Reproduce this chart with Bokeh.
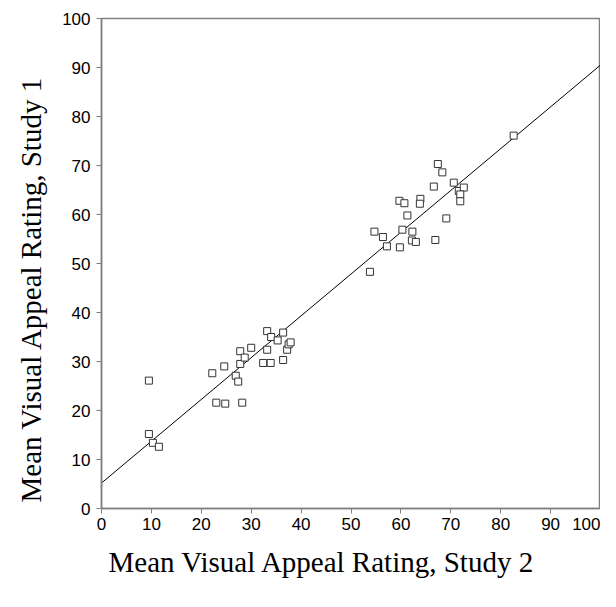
from bokeh.plotting import figure
from bokeh.models import Range1d, FixedTicker, Title
from bokeh.embed import file_html
from bokeh.resources import INLINE

# Mean visual appeal ratings (Study 2 on x, Study 1 on y)
study2 = [9.5, 9.5, 10.3, 11.5, 22.2, 24.6, 23.0, 24.8, 28.2, 26.9,
          27.4, 27.8, 27.8, 28.7, 30.0, 32.4, 33.9, 33.2, 33.2, 34.0,
          35.3, 36.4, 36.4, 37.2, 37.5, 37.9,
          82.6, 67.4, 68.3, 66.6, 70.6, 71.6, 72.6, 71.9, 71.9, 59.7,
          60.7, 63.9, 63.8, 61.3, 69.1, 54.7, 56.4, 60.3, 62.3, 57.2,
          59.8, 62.2, 63.0, 66.9, 53.8]
study1 = [26.1, 15.2, 13.4, 12.6, 27.6, 29.0, 21.6, 21.4, 21.6, 27.1,
          25.9, 32.1, 29.5, 30.8, 32.8, 29.7, 29.7, 36.2, 32.4, 35.0,
          34.3, 35.9, 30.3, 32.4, 33.5, 33.9,
          76.1, 70.3, 68.6, 65.7, 66.5, 64.8, 65.5, 64.1, 62.7, 62.8,
          62.3, 63.2, 62.2, 59.8, 59.2, 56.5, 55.4, 56.9, 56.5, 53.5,
          53.3, 54.7, 54.4, 54.8, 48.3]

# Fitted regression line endpoints
fit_x = [0, 100]
fit_y = [5.2, 90.5]

x_ticks = [0, 10, 20, 30, 40, 50, 60, 70, 80, 90, 100]
y_ticks = [0, 10, 20, 30, 40, 50, 60, 70, 80, 90, 100]

x_title = "Mean Visual Appeal Rating, Study 2"
y_title = "Mean Visual Appeal Rating, Study 1"

p = figure(width=600, height=591, output_backend="svg", toolbar_location=None,
           x_range=Range1d(0, 100), y_range=Range1d(0, 100),
           min_border_left=101, min_border_right=0, min_border_top=18,
           min_border_bottom=83)

p.line(fit_x, fit_y, line_color="black", line_width=1)
p.scatter(study2, study1, marker="square", size=7, fill_color="white",
          line_color="#333333", line_width=1)

p.grid.visible = False
p.outline_line_color = "#808080"
p.outline_line_width = 1.5

for ax in (p.xaxis[0], p.yaxis[0]):
    ax.axis_line_color = "#808080"
    ax.axis_line_width = 1.5
    ax.major_tick_line_color = "#808080"
    ax.major_tick_in = 0
    ax.major_tick_out = 5
    ax.minor_tick_line_color = None
    ax.major_label_text_font = "Liberation Sans"
    ax.major_label_text_font_size = "17px"
    ax.major_label_text_color = "black"

p.xaxis.ticker = FixedTicker(ticks=x_ticks)
p.yaxis.ticker = FixedTicker(ticks=y_ticks)
p.xaxis.major_label_standoff = 4
p.yaxis.major_label_standoff = 6

p.add_layout(Title(text=x_title, align="left", offset=7, standoff=22,
                   text_font="Liberation Serif", text_font_size="29px",
                   text_font_style="normal", text_color="black"), "below")
p.add_layout(Title(text=y_title, align="left", offset=6, standoff=25,
                   text_font="Liberation Serif", text_font_size="29px",
                   text_font_style="normal", text_color="black"), "left")

open("out.html", "w").write(file_html(p, INLINE))
